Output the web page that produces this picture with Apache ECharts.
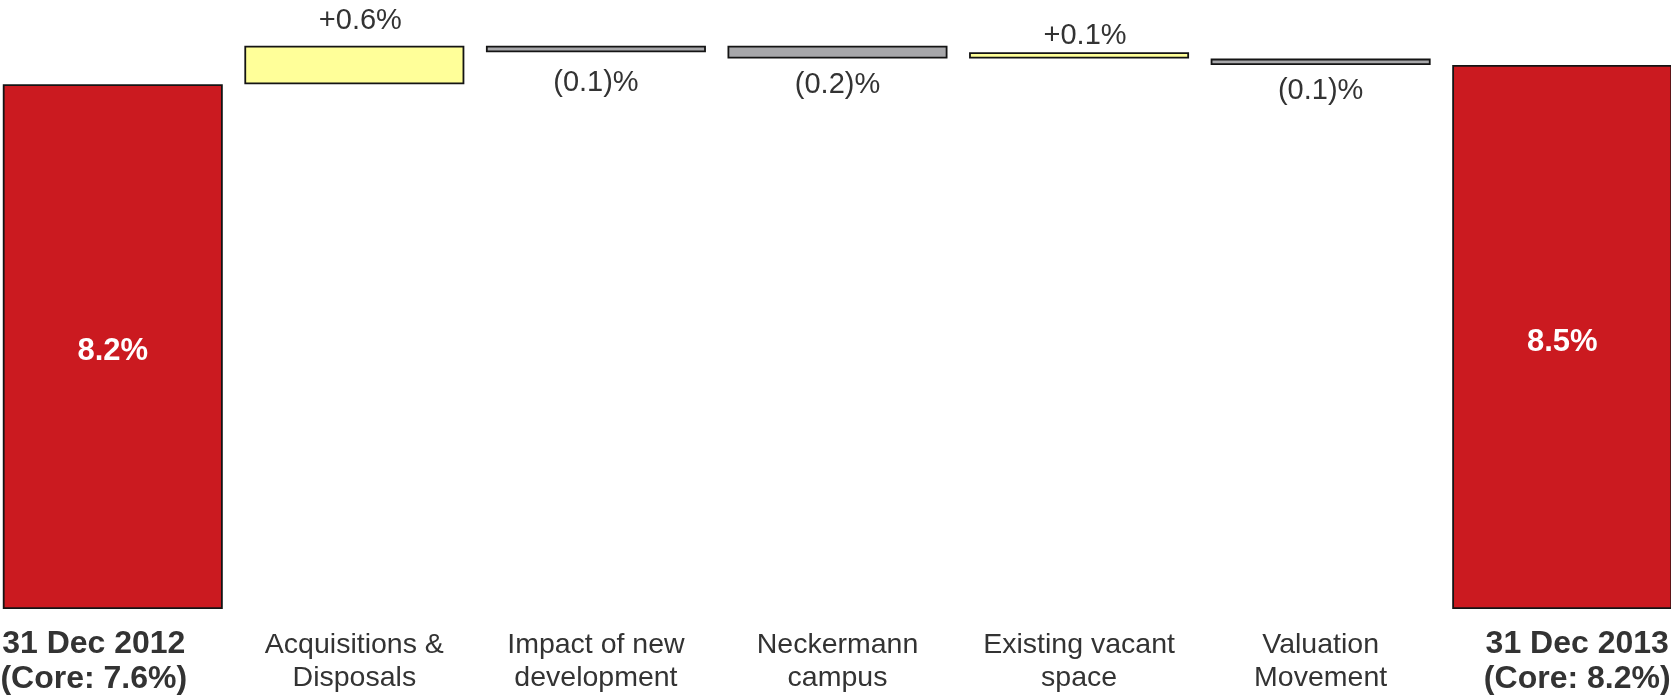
<!DOCTYPE html>
<html>
<head>
<meta charset="utf-8">
<script src="https://cdn.jsdelivr.net/npm/echarts@6/dist/echarts.min.js"></script>
<style>
  html, body { margin: 0; padding: 0; background: #ffffff; overflow: hidden; }
  /* the outer bars run slightly past the page edges */
  #chart { width: 1691px; height: 698px; margin-left: -8px; }
</style>
</head>
<body>
<div id="chart"></div>
<script>
// Yield bridge: opening and closing yields with the movements between them
const categories = [
  '31 Dec 2012\n(Core: 7.6%)',
  'Acquisitions &\nDisposals',
  'Impact of new\ndevelopment',
  'Neckermann\ncampus',
  'Existing vacant\nspace',
  'Valuation\nMovement',
  '31 Dec 2013\n(Core: 8.2%)'
];
const openingYield = 8.2;
const closingYield = 8.5;
const changes = [0.6, -0.1, -0.2, 0.1, -0.1];
// lower edge of each floating bar (totals stand on zero)
const barBase = [0, 8.2, 8.7, 8.6, 8.6, 8.5, 0];

const RED = '#CB1A20';
const YELLOW = '#FFFF99';
const GREY = '#A7A7AA';
const TEXT = '#333333';
const FONT = "'Liberation Sans', Arial, sans-serif";

const values = [openingYield, ...changes, closingYield];
const isTotal = (i) => i === 0 || i === values.length - 1;

function fmt(v, i) {
  if (isTotal(i)) return v.toFixed(1) + '%';
  return v >= 0 ? '+' + v.toFixed(1) + '%' : '(' + Math.abs(v).toFixed(1) + ')%';
}

// per-bar label gap from the bar edge
const labelGap = [0, 10, 16, 12, 2, 11, 0];

const barItems = values.map((v, i) => {
  const color = isTotal(i) ? RED : (v >= 0 ? YELLOW : GREY);
  let label;
  if (isTotal(i)) {
    label = { show: true, position: 'inside', offset: [0, 5], color: '#ffffff', fontWeight: 'bold', fontSize: 31 };
  } else if (v >= 0) {
    label = { show: true, position: 'top', distance: labelGap[i], offset: [6, 0], color: TEXT, fontSize: 29 };
  } else {
    label = { show: true, position: 'bottom', distance: labelGap[i], color: TEXT, fontSize: 29 };
  }
  return { value: Math.abs(v), itemStyle: { color: color }, label: label };
});

const axisItems = categories.map((c, i) => {
  if (i === 0) {
    return { value: c, textStyle: { fontWeight: 'bold', fontSize: 32, lineHeight: 35, padding: [0, 38, 0, 0] } };
  }
  if (i === categories.length - 1) {
    return { value: c, textStyle: { fontWeight: 'bold', fontSize: 32, lineHeight: 35, padding: [0, 0, 0, 30] } };
  }
  return { value: c, textStyle: { fontSize: 28.5, lineHeight: 33, padding: [2, 0, 0, 0] } };
});

const chart = echarts.init(document.getElementById('chart'), null, { renderer: 'canvas' });
chart.setOption({
  animation: false,
  backgroundColor: '#ffffff',
  textStyle: { fontFamily: FONT },
  grid: { left: 0, right: 0, top: 33, bottom: 89, containLabel: false },
  xAxis: {
    type: 'category',
    data: axisItems,
    axisLine: { show: false },
    axisTick: { show: false },
    axisLabel: { interval: 0, color: TEXT, fontFamily: FONT, fontSize: 28.5, lineHeight: 33, margin: 18 }
  },
  yAxis: {
    type: 'value',
    min: 0,
    max: 9,
    show: false,
    splitLine: { show: false }
  },
  series: [
    {
      name: 'base',
      type: 'bar',
      stack: 'bridge',
      silent: true,
      itemStyle: { color: 'transparent', borderWidth: 0 },
      data: barBase,
      barWidth: 220
    },
    {
      name: 'yield',
      type: 'bar',
      stack: 'bridge',
      barWidth: 220,
      itemStyle: { borderColor: '#141414', borderWidth: 1.8 },
      label: {
        fontFamily: FONT,
        formatter: (p) => fmt(values[p.dataIndex], p.dataIndex)
      },
      data: barItems
    }
  ]
});
</script>
</body>
</html>
